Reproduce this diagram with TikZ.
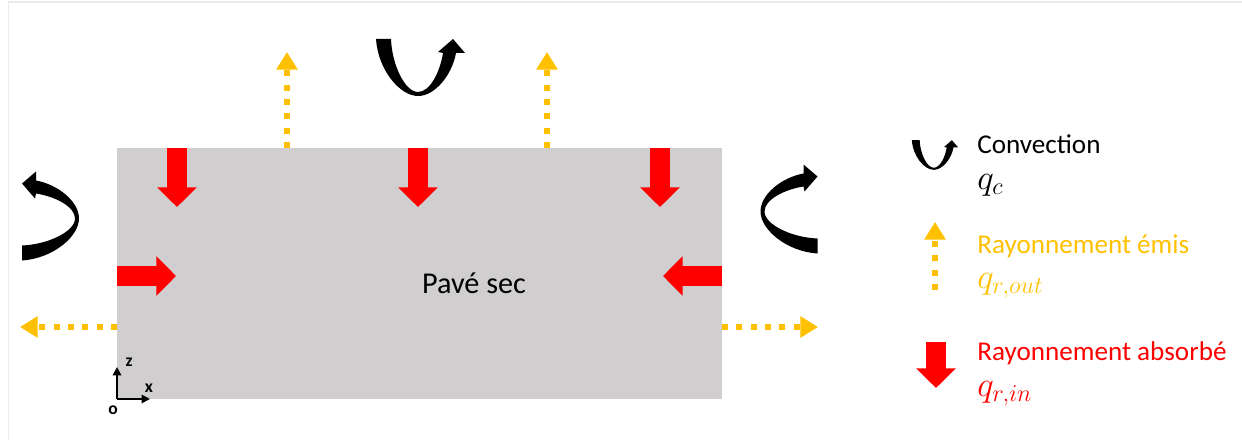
\documentclass[tikz,border=0pt]{standalone}
\usepackage{fontspec}
\setmainfont{Carlito}
\usetikzlibrary{arrows.meta}
\definecolor{cpave}{HTML}{D0CECE}
\definecolor{cgold}{HTML}{FFC000}
\definecolor{cred}{HTML}{FF0000}
\definecolor{cframe}{HTML}{EBEBEB}
\tikzset{
  every picture/.style={font=\fontsize{19.3}{23}\selectfont},
  absorb/.style={draw=cred, line width=14.2pt, -{Triangle[width=27.5pt, length=14pt]}},
  emit/.style={draw=cgold, line width=4.3pt, dash pattern=on 4.3pt off 5.9pt, -{Triangle[width=14.5pt, length=12.5pt]}},
  axis/.style={line width=1.4pt, -{Triangle[width=6pt, length=6pt]}},
  axlabel/.style={font=\fontsize{12.5}{14}\selectfont\bfseries, inner sep=0pt},
  legend/.style={anchor=west, inner sep=0pt},
  flux/.style={legend, font=\fontsize{23.5}{27}\selectfont},
  convection/.pic={
    \fill[black] (-44.5,-28.5) .. controls (-42.5,2.5) and (-20.5,28.5) .. (-2.5,28.5)
      .. controls (14.5,28.5) and (31.5,7.5) .. (35.5,-14.5) -- (44.5,-14.5) -- (32.5,-28.5)
      -- (17.5,-15.5) -- (22.5,-14.5) .. controls (19.5,4.5) and (9.5,24.5) .. (-2.5,24.5)
      .. controls (-15.5,24.5) and (-28.5,-2.5) .. (-29.5,-28.5) -- cycle;
  },
}

\begin{document}
\begin{tikzpicture}[x=0.025cm, y=-0.025cm]
  \useasboundingbox (0,0) rectangle (1242,440);
  \draw[cframe, line width=1pt] (8.5,440) -- (8.5,2) -- (1242,2);
  % dry block
  \fill[cpave] (117,148) rectangle (722,399);
  \node[font=\fontsize{21.5}{25}\selectfont] (pave) at (474,283) {Pavé sec};
  % absorbed radiation
  \foreach \x [count=\i] in {177,418,660} {
    \coordinate (in\i s) at (\x,148);
    \coordinate (in\i e) at (\x,207);
    \draw[absorb] (in\i s) -- (in\i e);
  }
  \coordinate (inLs) at (117,276);
  \coordinate (inLe) at (176,276);
  \coordinate (inRs) at (722,276);
  \coordinate (inRe) at (663,276);
  \draw[absorb] (inLs) -- (inLe);
  \draw[absorb] (inRs) -- (inRe);
  % emitted radiation
  \foreach \x [count=\i] in {287,547} {
    \coordinate (out\i s) at (\x,148);
    \coordinate (out\i e) at (\x,52);
    \draw[emit] (out\i s) -- (out\i e);
  }
  \coordinate (outLs) at (117,327);
  \coordinate (outLe) at (20,327);
  \coordinate (outRs) at (722,327);
  \coordinate (outRe) at (818,327);
  \draw[emit] (outLs) -- (outLe);
  \draw[emit] (outRs) -- (outRe);
  % convection
  \pic at (420.5,67.5) {convection};
  \pic[rotate=90] at (50.5,216) {convection};
  \pic[rotate=-90, xscale=-1] at (789,209) {convection};
  % axes
  \coordinate (o) at (117,399);
  \coordinate (oz) at (117,367);
  \coordinate (ox) at (150,399);
  \draw[axis] (o) -- (oz);
  \draw[axis] (o) -- (ox);
  \node[axlabel] (lz) at (129,362) {z};
  \node[axlabel] (lx) at (149,388) {x};
  \node[axlabel] (lo) at (113,410) {o};
  % legend
  \pic[scale=0.52] at (935,155) {convection};
  \node[legend] (convtxt) at (977,144) {Convection};
  \node[flux] (qc) at (977,185) {$q_c$};
  \coordinate (legOs) at (935,290);
  \coordinate (legOe) at (935,222);
  \draw[emit] (legOs) -- (legOe);
  \node[legend, text=cgold] (emtxt) at (977,246) {Rayonnement émis};
  \node[flux, text=cgold] (qout) at (977,286) {$q_{r,out}$};
  \coordinate (legIs) at (936,342);
  \coordinate (legIe) at (936,388);
  \draw[absorb] (legIs) -- (legIe);
  \node[legend, text=cred] (abtxt) at (977,353) {Rayonnement absorbé};
  \node[flux, text=cred] (qin) at (977,394) {$q_{r,in}$};
\end{tikzpicture}
\end{document}
